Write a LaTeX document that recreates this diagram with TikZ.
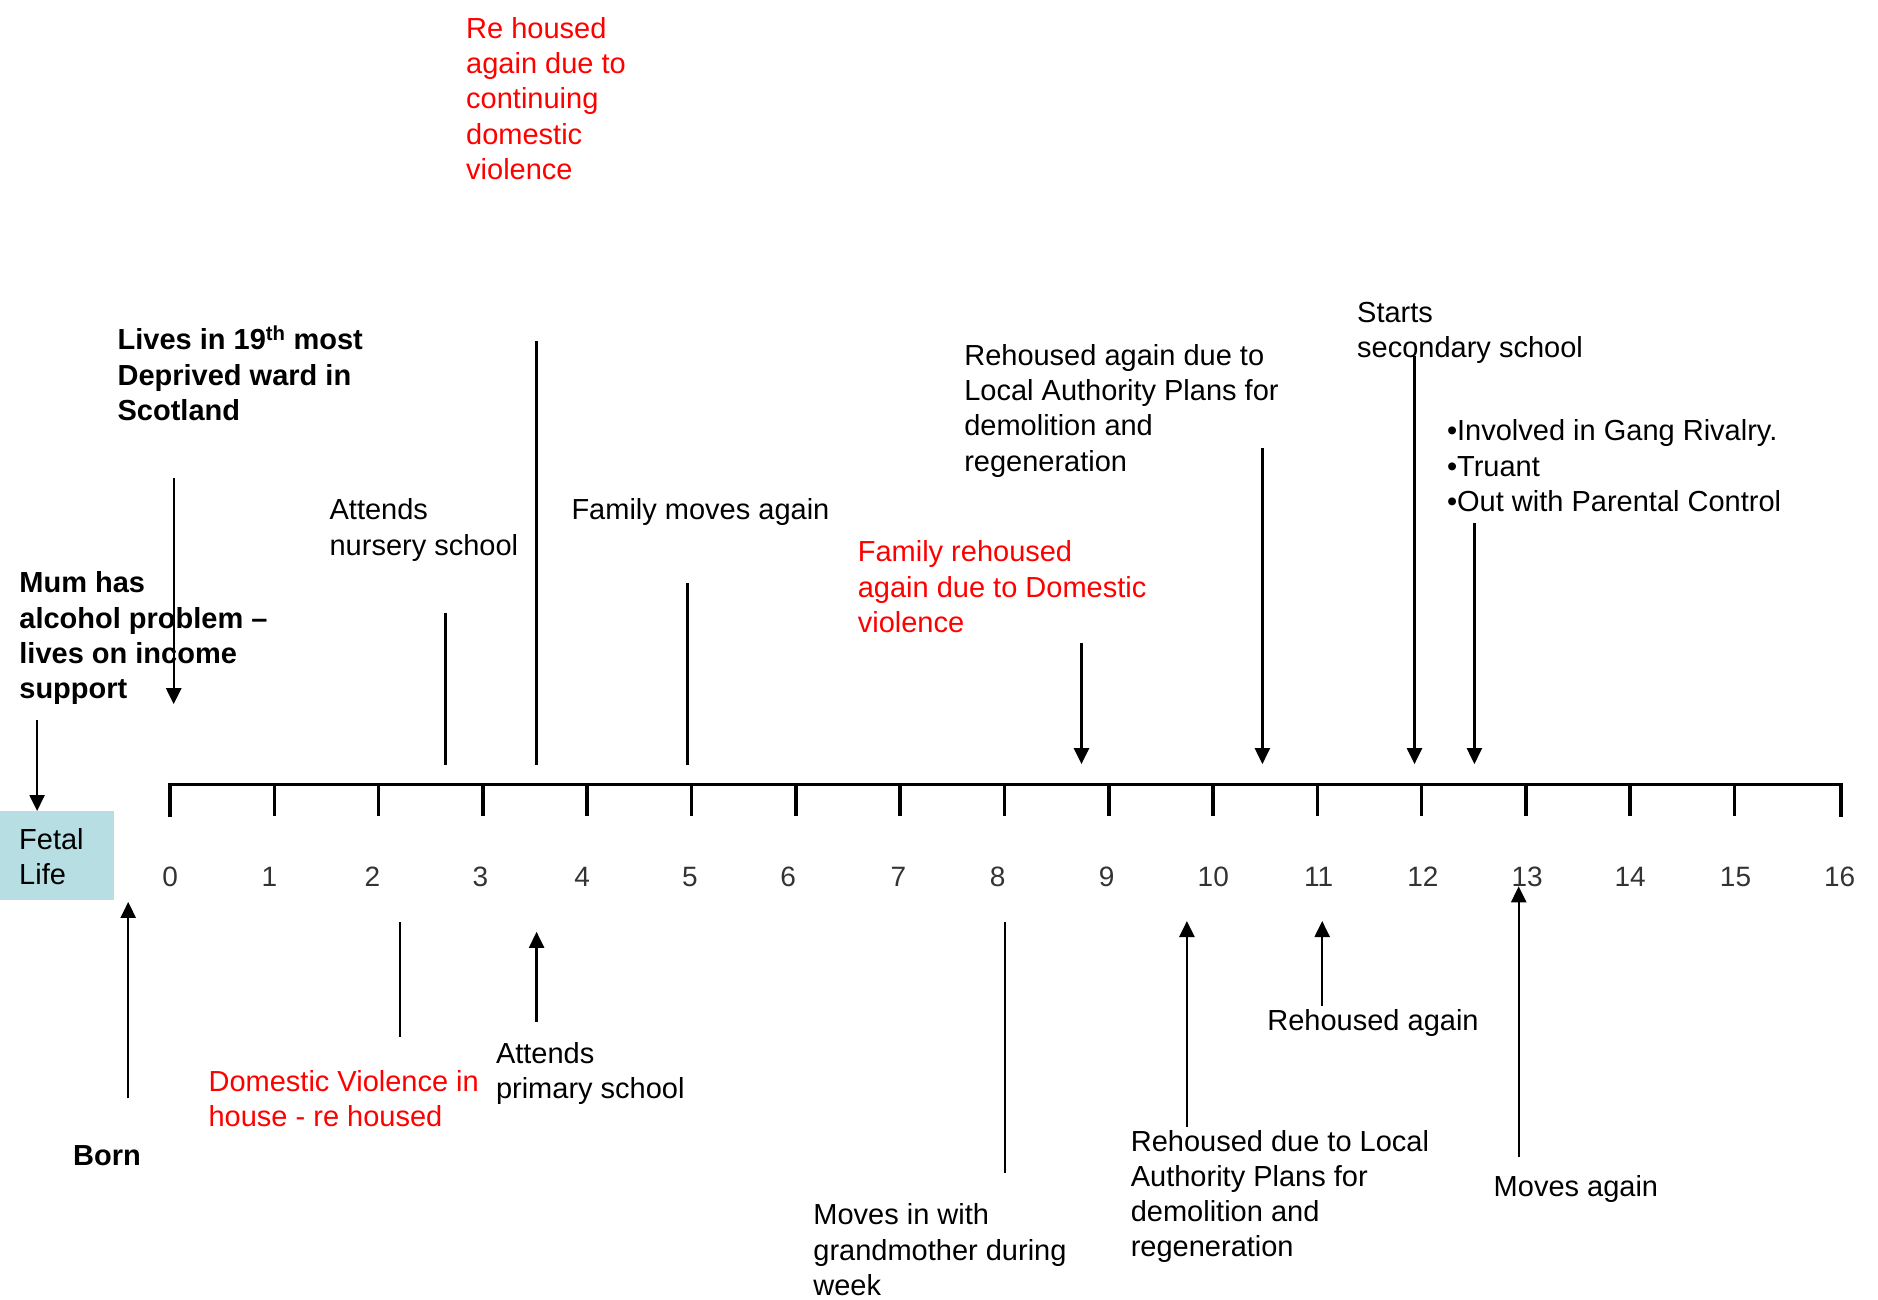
\documentclass[tikz,border=0pt]{standalone}
\usepackage{fontspec}
\setmainfont{Liberation Sans}
\usetikzlibrary{arrows.meta}
\definecolor{fetalblue}{HTML}{B7DEE2}
\definecolor{numgray}{HTML}{333333}
\begin{document}
\begin{tikzpicture}[x=1pt,y=-1pt,
  txt/.style={anchor=north west, inner sep=0pt, align=left, font=\fontsize{29}{35.3}\selectfont},
  boldtxt/.style={txt, font=\fontsize{29}{35.3}\selectfont\bfseries},
  redtxt/.style={txt, text=red},
  conn/.style={line width=2.4pt},
  arr/.style={conn, -{Triangle[length=16pt,width=15pt]}},
  axisline/.style={line width=3.6pt},
  num/.style={font=\fontsize{28}{30}\selectfont, text=numgray, inner sep=0pt}
]
\useasboundingbox (0,0) rectangle (1878,1300);

% Fetal life box
\node[fill=fetalblue, minimum width=114pt, minimum height=89pt, inner sep=0pt, anchor=north west] (fetal) at (0,811) {};
\node[txt] (fetaltxt) at (19,828) {Fetal\\Life};

% axis
\draw[axisline] (170,817) -- (170,784.5) -- (1841,784.5) -- (1841,817);
\foreach \i in {1,...,15} {
  \draw[axisline] (170+104.3*\i,784.5) -- (170+104.3*\i,816);
}
\foreach \n/\x in {0/170.1,1/269.5,2/372.5,3/480.3,4/582.1,5/689.9,6/788.1,7/898.3,8/997.7,9/1106.7,10/1213.3,11/1318.7,12/1422.9,13/1527.1,14/1630.1,15/1735.5,16/1839.7} {
  \node[num] (n\n) at (\x,877) {\n};
}

% texts above
\node[redtxt] (rehoused1) at (466,17) {Re housed\\again due to\\continuing\\domestic\\violence};
\node[boldtxt] (lives) at (117.4,326) {Lives in 19\textsuperscript{th} most\\Deprived ward in\\Scotland};
\node[txt] (nursery) at (329.4,498.6) {Attends\\nursery school};
\node[txt] (familymoves) at (571.3,498.6) {Family moves again};
\node[txt] (rehlocal1) at (964.1,344.1) {Rehoused again due to\\Local Authority Plans for\\demolition and\\regeneration};
\node[txt] (secondary) at (1357,302.2) {Starts\\secondary school};
\node[txt] (gang) at (1446.8,419.6) {•Involved in Gang Rivalry.\\•Truant\\•Out with Parental Control};
\node[redtxt] (famdv) at (857.6,540.5) {Family rehoused\\again due to Domestic\\violence};
\node[boldtxt] (mum) at (19.2,571.7) {Mum has\\alcohol problem –\\lives on income\\support};

% texts below
\node[redtxt] (dvhouse) at (208.4,1069.9) {Domestic Violence in\\house - re housed};
\node[txt] (primary) at (495.8,1042.4) {Attends\\primary school};
\node[boldtxt] (born) at (73,1145.4) {Born};
\node[txt] (grandmother) at (813.2,1203.5) {Moves in with\\grandmother during\\week};
\node[txt] (rehlocal2) at (1130.6,1129.8) {Rehoused due to Local\\Authority Plans for\\demolition and\\regeneration};
\node[txt] (rehagain) at (1267.2,1008.8) {Rehoused again};
\node[txt] (movesagain) at (1493.5,1175.3) {Moves again};

% connectors above the axis
\coordinate (a1) at (37.1,719.8);
\draw[arr] (a1) -- (a1 |- fetal.north);
\coordinate (b1) at (173.7,477.9);
\coordinate (b2) at (173.7,704.2);
\draw[arr] (b1) -- (b2);
\coordinate (c1) at (445.5,613.2);
\coordinate (c2) at (445.5,765.3);
\draw[conn] (c1) -- (c2);
\coordinate (d1) at (536.6,341.3);
\coordinate (d2) at (536.6,765.3);
\draw[conn] (d1) -- (d2);
\coordinate (e1) at (687.5,583.3);
\coordinate (e2) at (687.5,765.3);
\draw[conn] (e1) -- (e2);
\coordinate (f1) at (1081.5,643.2);
\coordinate (f2) at (1081.5,764.1);
\draw[arr] (f1) -- (f2);
\coordinate (g1) at (1262.4,447.9);
\coordinate (g2) at (1262.4,764.1);
\draw[arr] (g1) -- (g2);
\coordinate (h1) at (1414.5,355.7);
\coordinate (h2) at (1414.5,764.1);
\draw[arr] (h1) -- (h2);
\coordinate (i1) at (1474.4,523.4);
\coordinate (i2) at (1474.4,764.1);
\draw[arr] (i1) -- (i2);

% connectors below the axis
\coordinate (j1) at (128.2,1098.3);
\coordinate (j2) at (128.2,901.9);
\draw[arr] (j1) -- (j2);
\coordinate (k1) at (400,922.2);
\coordinate (k2) at (400,1037.2);
\draw[conn] (k1) -- (k2);
\coordinate (l1) at (536.6,1021.6);
\coordinate (l2) at (536.6,931.8);
\draw[arr] (l1) -- (l2);
\coordinate (m1) at (1004.9,922.2);
\coordinate (m2) at (1004.9,1172.5);
\draw[conn] (m1) -- (m2);
\coordinate (o1) at (1186.9,1127);
\coordinate (o2) at (1186.9,921);
\draw[arr] (o1) -- (o2);
\coordinate (p1) at (1322.2,1006);
\coordinate (p2) at (1322.2,921);
\draw[arr] (p1) -- (p2);
\coordinate (q1) at (1518.7,1157);
\coordinate (q2) at (1518.7,886.3);
\draw[arr] (q1) -- (q2);
\end{tikzpicture}
\end{document}
